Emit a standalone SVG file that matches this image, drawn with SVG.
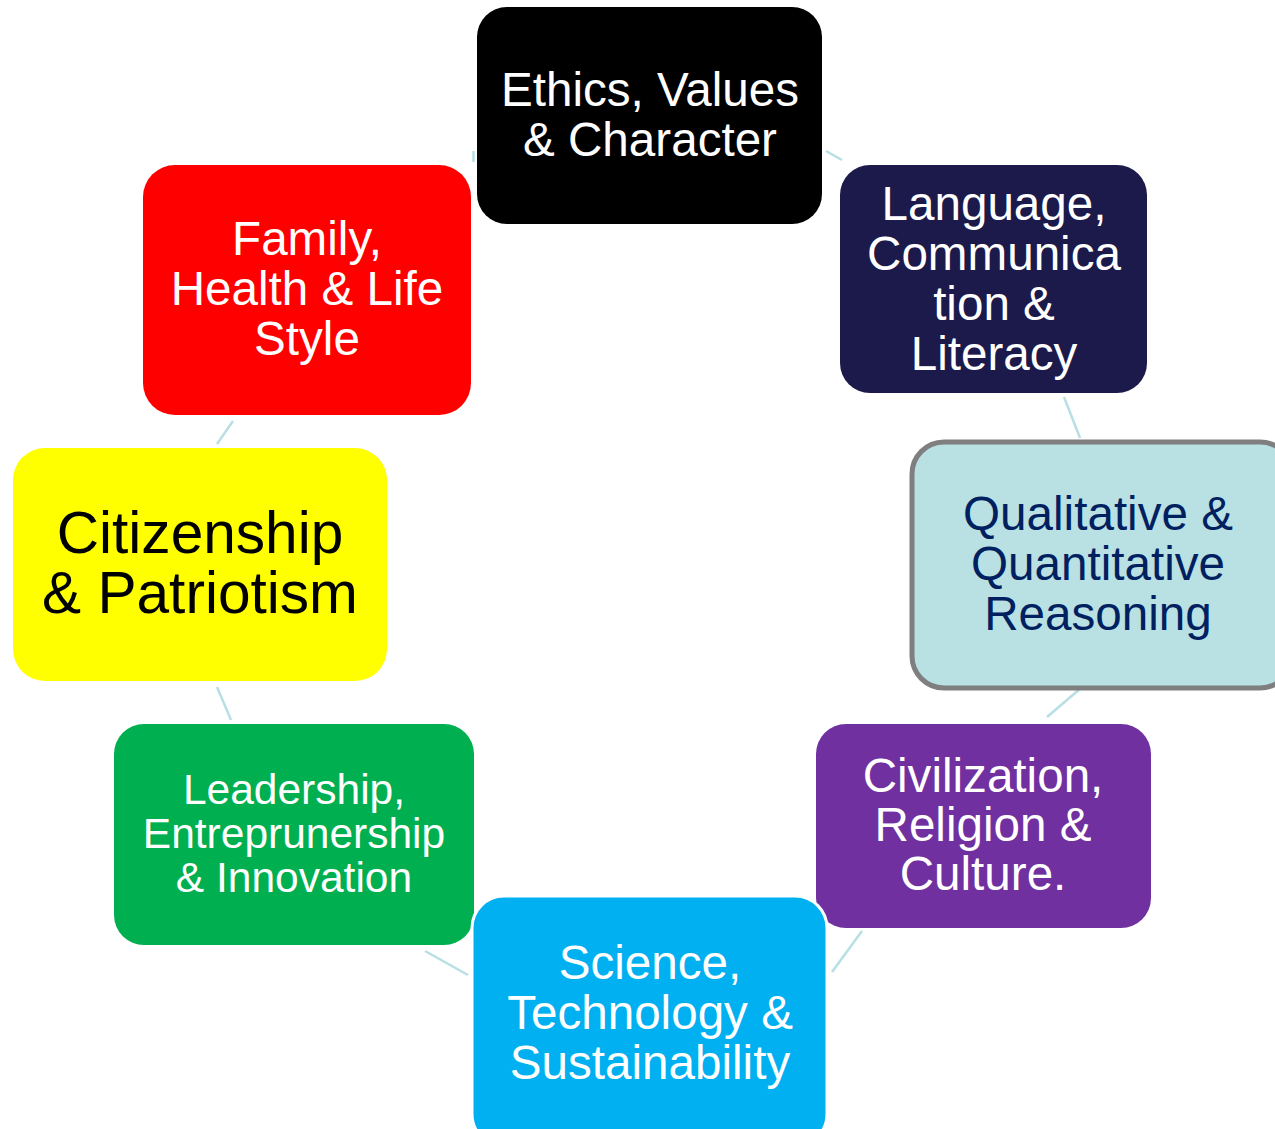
<svg xmlns="http://www.w3.org/2000/svg" width="1275" height="1129" viewBox="0 0 1275 1129">
  <style>
    text { font-family: "Liberation Sans", Arial, sans-serif; text-anchor: middle; }
    .link { stroke: #b7dfe4; stroke-width: 2.5; fill: none; }
    .w { fill: #ffffff; }
  </style>
  <rect width="1275" height="1129" fill="#ffffff"/>

  <!-- connectors between the ring of topics -->
  <g id="connectors">
    <line class="link" x1="826" y1="151" x2="842" y2="160"/>
    <line class="link" x1="1064" y1="397" x2="1080" y2="438"/>
    <line class="link" x1="1081" y1="688" x2="1047" y2="717"/>
    <line class="link" x1="862" y1="931" x2="832" y2="972"/>
    <line class="link" x1="425" y1="951" x2="468" y2="975"/>
    <line class="link" x1="217" y1="687" x2="231" y2="720"/>
    <line class="link" x1="233" y1="421" x2="217" y2="444"/>
    <line class="link" x1="473.5" y1="151" x2="473.5" y2="162"/>
  </g>

  <g id="ethics">
    <rect x="477" y="7" width="345" height="217" rx="30" fill="#000000"/>
    <text class="w" font-size="47.6"><tspan x="650" y="106">Ethics, Values</tspan><tspan x="650" y="156">&amp; Character</tspan></text>
  </g>

  <g id="language">
    <rect x="840" y="165" width="307" height="228" rx="30" fill="#1b1a4b"/>
    <text class="w" font-size="47.6"><tspan x="994" y="220">Language,</tspan><tspan x="994" y="270">Communica</tspan><tspan x="994" y="320">tion &amp;</tspan><tspan x="994" y="370">Literacy</tspan></text>
  </g>

  <g id="reasoning">
    <rect x="912" y="442" width="380" height="246" rx="32" fill="#b9e0e3" stroke="#7f7f7f" stroke-width="5"/>
    <text font-size="47.6" fill="#002060"><tspan x="1098" y="530">Qualitative &amp;</tspan><tspan x="1098" y="580">Quantitative</tspan><tspan x="1098" y="630">Reasoning</tspan></text>
  </g>

  <g id="civilization">
    <rect x="816" y="724" width="335" height="204" rx="30" fill="#7030a0"/>
    <text class="w" font-size="47.6"><tspan x="983" y="792">Civilization,</tspan><tspan x="983" y="841">Religion &amp;</tspan><tspan x="983" y="890">Culture.</tspan></text>
  </g>

  <g id="leadership">
    <rect x="114" y="724" width="360" height="221" rx="30" fill="#00b050"/>
    <text class="w" font-size="42.5"><tspan x="294" y="804">Leadership,</tspan><tspan x="294" y="848">Entreprunership</tspan><tspan x="294" y="892">&amp; Innovation</tspan></text>
  </g>

  <g id="science">
    <rect x="472" y="896" width="355" height="250" rx="32" fill="#00b0f0" stroke="#ffffff" stroke-width="3"/>
    <text class="w" font-size="47.6"><tspan x="650" y="979">Science,</tspan><tspan x="650" y="1029">Technology &amp;</tspan><tspan x="650" y="1079">Sustainability</tspan></text>
  </g>

  <g id="citizenship">
    <rect x="13" y="448" width="374" height="233" rx="32" fill="#ffff00"/>
    <text font-size="58.6" fill="#000000"><tspan x="200" y="553">Citizenship</tspan><tspan x="200" y="613">&amp; Patriotism</tspan></text>
  </g>

  <g id="family">
    <rect x="143" y="165" width="328" height="250" rx="32" fill="#ff0000"/>
    <text class="w" font-size="47.6"><tspan x="307" y="255">Family,</tspan><tspan x="307" y="305">Health &amp; Life</tspan><tspan x="307" y="355">Style</tspan></text>
  </g>
</svg>
